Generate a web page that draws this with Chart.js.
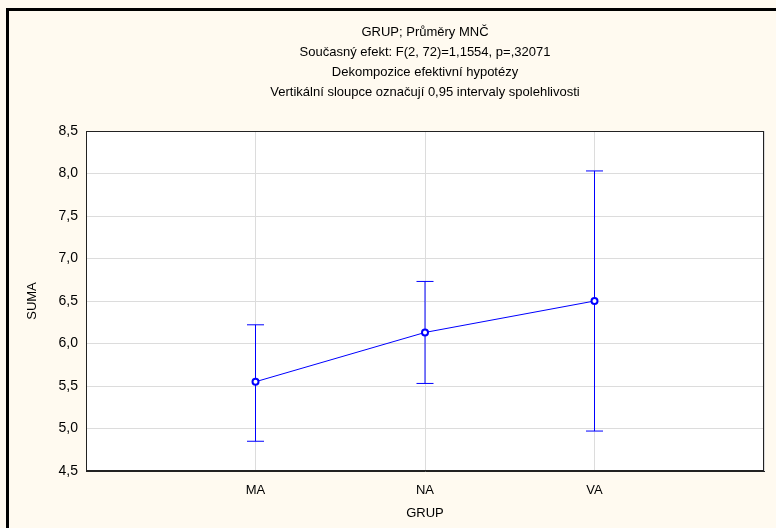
<!DOCTYPE html>
<html>
<head>
<meta charset="utf-8">
<script src="https://cdn.jsdelivr.net/npm/chart.js@4"></script>
<style>
  html, body { margin: 0; padding: 0; background: #fffaf0; }
</style>
</head>
<body>
<canvas id="grupChart" width="776" height="528"></canvas>
<script>
// GRUP; Průměry MNČ  - průměry a 0,95 intervaly spolehlivosti
const groups = ['MA', 'NA', 'VA'];
const means = [5.55, 6.13, 6.50];
const lower = [4.85, 5.53, 4.97];
const upper = [6.22, 6.73, 8.03];
const yMin = 4.5, yMax = 8.5, yStep = 0.5;
const titleLines = [
  'GRUP; Průměry MNČ',
  'Současný efekt: F(2, 72)=1,1554, p=,32071',
  'Dekompozice efektivní hypotézy',
  'Vertikální sloupce označují 0,95 intervaly spolehlivosti'
];

const blue = '#0000ff';
const gridColor = '#dcdcdc';
const fontFamily = '"Liberation Sans", Arial, sans-serif';

// pozadí, rámeček a bílá plocha grafu
const framePlugin = {
  id: 'frame',
  beforeDraw(chart) {
    const { ctx, chartArea: a } = chart;
    ctx.save();
    ctx.fillStyle = '#fffaf0';
    ctx.fillRect(0, 0, chart.width, chart.height);
    ctx.fillStyle = '#ffffff';
    ctx.fillRect(a.left, a.top, a.right - a.left, a.bottom - a.top);
    ctx.strokeStyle = '#000';
    ctx.lineWidth = 3;
    ctx.beginPath();
    ctx.moveTo(7.5, chart.height);
    ctx.lineTo(7.5, 9.5);
    ctx.lineTo(chart.width, 9.5);
    ctx.stroke();
    ctx.restore();
  },
  afterDraw(chart) {
    const { ctx, chartArea: a } = chart;
    ctx.save();
    ctx.strokeStyle = '#222';
    ctx.lineWidth = 1;
    ctx.strokeRect(Math.round(a.left) + 0.5, Math.round(a.top) + 0.5,
      Math.round(a.right - a.left) - 1, Math.round(a.bottom - a.top) - 1);
    ctx.restore();
  }
};

const datasets = [
  {
    data: groups.map((g, i) => ({ x: i + 1, y: means[i] })),
    borderColor: blue,
    borderWidth: 1,
    pointRadius: 3,
    pointBorderWidth: 2,
    pointBackgroundColor: '#ffffff',
    pointBorderColor: blue,
    tension: 0
  }
];
groups.forEach((g, i) => {
  datasets.push({
    data: [{ x: i + 1, y: lower[i] }, { x: i + 1, y: upper[i] }],
    borderColor: blue,
    borderWidth: 1,
    pointStyle: 'line',
    pointRadius: 8.5,
    pointBorderWidth: 1,
    pointBorderColor: blue
  });
});

new Chart(document.getElementById('grupChart'), {
  type: 'line',
  data: { datasets: datasets },
  options: {
    responsive: false,
    animation: false,
    layout: { padding: { left: 8, right: 12, top: 0, bottom: 0 } },
    plugins: {
      legend: { display: false },
      tooltip: { enabled: false },
      title: {
        display: true,
        fullSize: false,
        text: titleLines,
        color: '#000',
        font: { family: fontFamily, size: 13, weight: 'normal', lineHeight: 20 / 13 },
        padding: { top: 22, bottom: 29 }
      }
    },
    scales: {
      x: {
        type: 'linear',
        min: 0,
        max: groups.length + 1,
        afterFit(scale) { scale.height = 57; },
        grid: { color: gridColor, drawTicks: false },
        border: { display: true, color: '#222' },
        ticks: {
          stepSize: 1,
          padding: 12,
          color: '#000',
          font: { family: fontFamily, size: 13 },
          callback: (v) => groups[v - 1] || ''
        },
        title: {
          display: true,
          text: 'GRUP',
          color: '#000',
          font: { family: fontFamily, size: 13 },
          padding: { top: 0, bottom: 7 }
        }
      },
      y: {
        min: yMin,
        max: yMax,
        afterFit(scale) { scale.width = 78; },
        grid: { color: gridColor, drawTicks: false },
        border: { display: true, color: '#222' },
        ticks: {
          stepSize: yStep,
          padding: 8,
          color: '#000',
          font: { family: fontFamily, size: 14 },
          callback: (v) => v.toFixed(1).replace('.', ',')
        },
        title: {
          display: true,
          text: 'SUMA',
          color: '#000',
          font: { family: fontFamily, size: 13 },
          padding: { top: 17, bottom: 0 }
        }
      }
    }
  },
  plugins: [framePlugin]
});
</script>
</body>
</html>
